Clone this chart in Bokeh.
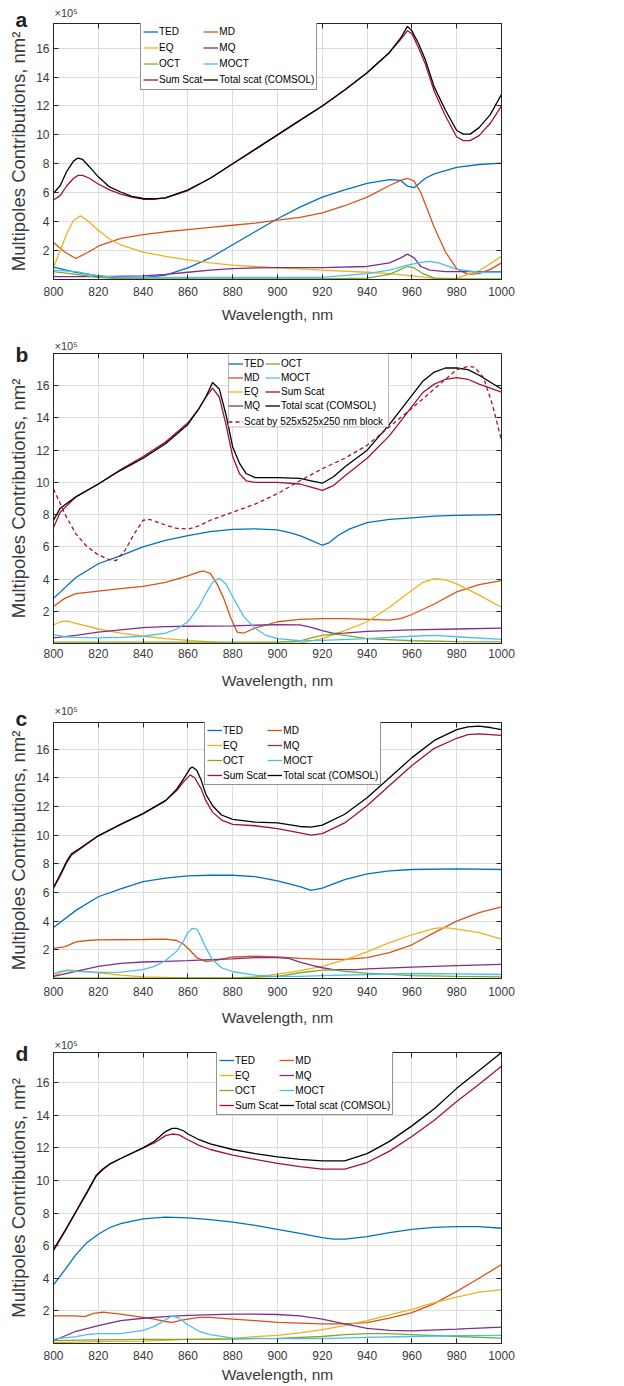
from bokeh.plotting import figure
from bokeh.models import (Range1d, FixedTicker, LinearAxis, Legend, LegendItem,
                          BoxAnnotation, Title)
from bokeh.layouts import column
from bokeh.embed import file_html
from bokeh.resources import INLINE

# ------------------------------------------------------------------ data
x_ticks = [800, 820, 840, 860, 880, 900, 920, 940, 960, 980, 1000]
y_ticks = [2, 4, 6, 8, 10, 12, 14, 16]
x_label = "Wavelength, nm"
y_label = "Multipoles Contributions, nm²"
y_multiplier = "×10⁵"
series_names = ["TED", "MD", "EQ", "MQ", "OCT", "MOCT", "Sum Scat", "Total scat (COMSOL)"]
block_name = "Scat by 525x525x250 nm block"

# ---- panel a (values x1e5 nm^2)
a_ted_x = [800,810,820,830,840,850,860,870,880,890,900,910,920,930,940,950,955,958,961,963,966,970,980,990,1000]
a_ted_y = [0.85,0.5,0.25,0.1,0.12,0.3,0.8,1.5,2.4,3.3,4.2,5.0,5.7,6.2,6.65,6.9,6.85,6.45,6.35,6.6,7.0,7.3,7.75,7.95,8.05]
a_md_x = [800,805,810,815,820,830,840,850,860,870,880,890,900,910,920,930,940,950,955,958,961,964,967,970,975,980,985,990,995,1000]
a_md_y = [2.55,1.9,1.45,1.85,2.3,2.85,3.1,3.3,3.45,3.6,3.75,3.9,4.1,4.3,4.6,5.1,5.7,6.5,6.85,7.0,6.8,6.0,4.8,3.6,1.9,0.75,0.35,0.4,0.7,1.15]
a_eq_x = [800,803,806,809,812,815,820,825,830,840,850,860,870,880,890,900,920,940,950,960,970,980,990,1000]
a_eq_y = [0.85,2.0,3.2,4.1,4.4,4.1,3.4,2.8,2.4,1.9,1.6,1.35,1.15,1.0,0.9,0.8,0.65,0.5,0.4,0.25,0.08,0.1,0.6,1.6]
a_mq_x = [800,820,840,850,860,870,880,890,900,920,940,950,955,958,961,964,968,975,1000]
a_mq_y = [0.2,0.2,0.25,0.35,0.5,0.65,0.75,0.8,0.82,0.82,0.9,1.15,1.5,1.75,1.5,0.9,0.65,0.55,0.55]
a_oct_x = [800,810,820,830,840,920,940,950,955,958,961,965,970,980,1000]
a_oct_y = [0.55,0.35,0.15,0.05,0.05,0.05,0.1,0.35,0.7,0.9,0.8,0.4,0.1,0.05,0.05]
a_moct_x = [800,810,820,830,840,920,940,950,958,965,968,972,980,990,1000]
a_moct_y = [0.65,0.55,0.25,0.15,0.15,0.15,0.4,0.65,1.0,1.2,1.25,1.15,0.7,0.5,0.5]
a_sum_x = [800,803,806,809,811,813,816,820,825,830,835,840,845,850,860,870,880,890,900,910,920,930,940,950,955,958,960,963,966,970,975,980,983,986,990,995,1000]
a_sum_y = [5.5,5.8,6.5,7.0,7.2,7.2,7.0,6.6,6.2,5.9,5.7,5.55,5.55,5.65,6.15,7.0,8.0,9.0,10.0,11.0,12.0,13.1,14.3,15.7,16.6,17.2,17.0,16.0,14.9,13.0,11.3,9.85,9.6,9.6,9.95,10.8,12.0]
a_total_x = [800,803,806,809,811,813,816,820,825,830,835,840,845,850,860,870,880,890,900,910,920,930,940,950,955,958,960,963,966,970,975,980,983,986,990,995,1000]
a_total_y = [5.95,6.5,7.5,8.2,8.4,8.3,7.8,7.1,6.4,6.05,5.75,5.6,5.58,5.65,6.2,7.0,8.0,9.0,10.0,11.0,12.0,13.1,14.3,15.7,16.7,17.5,17.2,16.3,15.2,13.3,11.7,10.3,10.05,10.05,10.5,11.4,12.8]

# ---- panel b
b_ted_x = [800,810,820,830,840,850,860,870,880,890,900,905,910,915,920,923,927,932,940,950,960,970,980,1000]
b_ted_y = [2.8,4.1,4.95,5.45,6.0,6.4,6.7,6.95,7.08,7.12,7.05,6.9,6.7,6.4,6.1,6.25,6.7,7.1,7.5,7.7,7.8,7.9,7.95,8.0]
b_md_x = [800,805,810,820,830,840,850,855,860,865,867,870,873,876,879,882,885,890,900,910,920,930,940,950,955,960,970,980,990,1000]
b_md_y = [2.3,2.8,3.1,3.25,3.4,3.55,3.8,4.0,4.2,4.45,4.5,4.35,3.7,2.8,1.65,0.7,0.65,0.95,1.35,1.5,1.55,1.55,1.5,1.45,1.55,1.8,2.45,3.2,3.65,3.9]
b_eq_x = [800,803,806,810,820,830,840,850,860,870,875,910,920,930,940,950,960,965,970,975,980,990,1000]
b_eq_y = [1.15,1.35,1.4,1.25,0.9,0.65,0.45,0.3,0.2,0.1,0.02,0.02,0.3,0.8,1.35,2.25,3.3,3.8,4.02,3.95,3.7,3.0,2.25]
b_mq_x = [800,810,820,830,840,850,860,880,900,910,915,920,925,930,940,960,980,1000]
b_mq_y = [0.35,0.5,0.7,0.85,0.98,1.05,1.07,1.1,1.17,1.15,1.0,0.8,0.63,0.65,0.75,0.85,0.9,0.95]
b_oct_x = [800,900,910,915,920,925,930,940,960,980,1000]
b_oct_y = [0.08,0.08,0.15,0.35,0.5,0.58,0.5,0.3,0.17,0.12,0.1]
b_moct_x = [800,805,810,820,830,840,850,855,860,865,868,871,874,877,880,885,890,895,900,910,920,940,960,970,980,1000]
b_moct_y = [0.55,0.42,0.38,0.35,0.38,0.45,0.65,0.9,1.35,2.3,3.1,3.8,4.05,3.7,2.9,1.65,0.95,0.5,0.3,0.17,0.2,0.3,0.45,0.5,0.42,0.25]
b_sum_x = [800,803,810,820,830,840,850,860,865,868,871,874,877,880,883,886,890,900,910,915,920,925,930,940,950,960,965,970,975,980,985,990,1000]
b_sum_y = [7.2,8.15,9.1,9.9,10.8,11.6,12.5,13.7,14.6,15.3,15.85,15.3,13.6,11.6,10.55,10.1,10.0,10.0,9.9,9.7,9.5,9.8,10.4,11.5,12.9,14.7,15.6,16.1,16.4,16.5,16.4,16.1,15.6]
b_total_x = [800,803,810,820,830,840,850,860,865,868,871,874,877,880,883,886,890,900,910,915,920,925,930,940,950,960,965,970,975,980,985,990,1000]
b_total_y = [7.65,8.4,9.1,9.9,10.75,11.5,12.4,13.6,14.6,15.3,16.2,15.8,14.2,12.2,11.2,10.55,10.3,10.3,10.25,10.1,9.95,10.35,10.95,12.0,13.6,15.4,16.3,16.85,17.1,17.1,17.0,16.65,15.8]
b_block_x = [800,805,810,815,820,825,828,832,836,840,843,846,850,855,860,865,870,880,890,900,910,920,930,940,950,960,970,980,985,988,992,996,1000]
b_block_y = [9.6,8.05,6.8,6.0,5.5,5.2,5.15,5.8,6.8,7.65,7.7,7.55,7.35,7.15,7.1,7.3,7.65,8.15,8.65,9.3,10.1,10.85,11.5,12.3,13.45,14.6,15.8,17.0,17.2,17.15,16.5,14.8,12.6]

# ---- panel c
c_ted_x = [800,810,820,830,840,850,860,870,880,890,900,910,915,920,930,940,950,960,980,1000]
c_ted_y = [3.55,4.75,5.7,6.25,6.75,7.0,7.15,7.2,7.2,7.1,6.8,6.4,6.15,6.3,6.9,7.3,7.5,7.6,7.65,7.6]
c_md_x = [800,805,810,815,820,840,850,855,858,861,864,868,872,880,890,900,910,920,930,940,950,960,970,980,990,1000]
c_md_y = [2.1,2.2,2.55,2.65,2.7,2.72,2.75,2.65,2.4,1.95,1.45,1.2,1.25,1.5,1.55,1.5,1.4,1.33,1.33,1.45,1.8,2.35,3.2,4.0,4.6,5.0]
c_eq_x = [800,803,806,810,820,830,840,860,880,890,900,910,920,930,940,950,960,970,975,980,990,1000]
c_eq_y = [0.15,0.4,0.6,0.55,0.4,0.23,0.12,0.05,0.05,0.1,0.3,0.55,0.85,1.3,1.85,2.5,3.05,3.5,3.55,3.45,3.2,2.75]
c_mq_x = [800,810,820,830,840,850,860,870,880,890,900,905,910,915,920,925,935,940,960,980,1000]
c_mq_y = [0.15,0.5,0.85,1.05,1.15,1.2,1.25,1.32,1.37,1.45,1.45,1.4,1.15,0.93,0.75,0.62,0.62,0.67,0.8,0.9,0.98]
c_oct_x = [800,880,900,910,920,925,930,940,960,980,1000]
c_oct_y = [0.03,0.05,0.15,0.4,0.58,0.6,0.5,0.37,0.2,0.15,0.12]
c_moct_x = [800,803,806,810,820,830,840,845,850,855,858,860,862,864,866,868,871,875,880,890,900,910,920,940,960,980,1000]
c_moct_y = [0.32,0.5,0.55,0.5,0.43,0.45,0.62,0.85,1.25,1.9,2.6,3.2,3.5,3.45,2.85,2.15,1.3,0.75,0.47,0.23,0.15,0.15,0.2,0.28,0.35,0.32,0.28]
c_sum_x = [800,803,806,808,812,820,830,840,850,855,858,861,863,866,868,871,875,880,890,900,910,915,920,930,940,950,960,970,980,985,990,1000]
c_sum_y = [6.3,7.15,8.1,8.6,9.05,9.95,10.75,11.5,12.4,13.1,13.7,14.2,14.0,13.2,12.4,11.6,11.05,10.75,10.65,10.45,10.15,10.0,10.1,10.85,12.05,13.45,14.85,16.05,16.75,17.0,17.05,16.95]
c_total_x = [800,803,806,808,812,820,830,840,850,855,858,861,862,864,866,868,871,875,880,890,900,910,915,920,930,940,950,960,970,980,985,990,995,1000]
c_total_y = [6.35,7.25,8.2,8.7,9.1,9.95,10.75,11.5,12.4,13.2,13.9,14.65,14.75,14.5,13.8,12.85,12.05,11.4,11.1,10.9,10.85,10.6,10.55,10.7,11.45,12.6,14.0,15.4,16.6,17.35,17.55,17.6,17.5,17.35]

# ---- panel d
d_ted_x = [800,805,810,815,820,825,830,840,850,860,870,880,890,900,910,920,925,930,940,950,960,970,980,990,1000]
d_ted_y = [3.6,4.5,5.45,6.2,6.7,7.1,7.35,7.65,7.75,7.7,7.6,7.45,7.25,7.0,6.75,6.5,6.4,6.4,6.55,6.8,7.0,7.12,7.17,7.17,7.07]
d_md_x = [800,810,814,818,822,830,840,845,850,853,858,865,870,880,890,900,910,920,930,940,950,960,970,980,990,1000]
d_md_y = [1.7,1.7,1.65,1.85,1.92,1.8,1.6,1.5,1.35,1.3,1.45,1.6,1.6,1.5,1.4,1.3,1.25,1.2,1.2,1.28,1.55,1.9,2.45,3.2,4.0,4.85]
d_eq_x = [800,820,840,860,880,890,900,910,920,930,940,950,960,970,980,990,1000]
d_eq_y = [0.05,0.12,0.15,0.25,0.32,0.42,0.5,0.65,0.85,1.1,1.4,1.75,2.1,2.5,2.85,3.15,3.3]
d_mq_x = [800,810,820,830,840,850,860,880,890,900,910,920,930,940,950,960,980,1000]
d_mq_y = [0.17,0.75,1.1,1.4,1.55,1.65,1.72,1.8,1.8,1.78,1.7,1.5,1.2,0.93,0.8,0.78,0.88,1.0]
d_oct_x = [800,820,840,860,880,900,920,930,940,950,960,980,1000]
d_oct_y = [0.18,0.22,0.25,0.25,0.27,0.32,0.43,0.55,0.6,0.6,0.55,0.43,0.33]
d_moct_x = [800,810,815,820,830,840,845,850,853,856,860,865,870,880,900,920,940,960,980,1000]
d_moct_y = [0.27,0.42,0.55,0.6,0.6,0.8,1.05,1.45,1.7,1.55,1.15,0.75,0.55,0.33,0.3,0.3,0.37,0.43,0.48,0.5]
d_sum_x = [800,805,810,815,819,822,825,830,840,845,850,853,856,860,865,870,880,890,900,910,920,930,940,950,960,970,980,990,1000]
d_sum_y = [5.7,6.85,8.05,9.25,10.25,10.65,11.0,11.35,12.0,12.3,12.75,12.85,12.8,12.5,12.15,11.9,11.55,11.3,11.05,10.85,10.7,10.7,11.1,11.8,12.7,13.7,14.85,15.9,17.0]
d_total_x = [800,805,810,815,819,822,825,830,840,845,850,853,855,858,860,865,870,880,890,900,910,920,930,940,950,960,970,980,990,1000]
d_total_y = [5.75,6.9,8.1,9.3,10.3,10.7,11.0,11.35,12.0,12.4,13.0,13.2,13.2,13.05,12.85,12.5,12.25,11.9,11.65,11.45,11.3,11.2,11.2,11.65,12.4,13.35,14.4,15.65,16.75,17.85]

panel_series = {
    "a": [(a_ted_x, a_ted_y), (a_md_x, a_md_y), (a_eq_x, a_eq_y), (a_mq_x, a_mq_y),
          (a_oct_x, a_oct_y), (a_moct_x, a_moct_y), (a_sum_x, a_sum_y), (a_total_x, a_total_y)],
    "b": [(b_ted_x, b_ted_y), (b_md_x, b_md_y), (b_eq_x, b_eq_y), (b_mq_x, b_mq_y),
          (b_oct_x, b_oct_y), (b_moct_x, b_moct_y), (b_sum_x, b_sum_y), (b_total_x, b_total_y)],
    "c": [(c_ted_x, c_ted_y), (c_md_x, c_md_y), (c_eq_x, c_eq_y), (c_mq_x, c_mq_y),
          (c_oct_x, c_oct_y), (c_moct_x, c_moct_y), (c_sum_x, c_sum_y), (c_total_x, c_total_y)],
    "d": [(d_ted_x, d_ted_y), (d_md_x, d_md_y), (d_eq_x, d_eq_y), (d_mq_x, d_mq_y),
          (d_oct_x, d_oct_y), (d_moct_x, d_moct_y), (d_sum_x, d_sum_y), (d_total_x, d_total_y)],
}
y_max = {"a": 17.7, "b": 18.0, "c": 17.85, "d": 17.85}

# ------------------------------------------------------------------ style
COLORS = ["#0072BD", "#D95319", "#EDB120", "#7E2F8E", "#77AC30", "#4DBEEE", "#A2142F", "#000000"]
FONT = "Liberation Sans"
AXC = "#262626"
TXC = "#3a3a3a"

# layout: height, border top, border bottom, tick standoff, axis-label standoff,
#         legend x (px from frame left), legend row height,
#         standoffs of the letter title and of the multiplier title (stacked in that order)
LAYOUT = {
    "a": dict(h=330, bt=23, bb=51, ts=7, als=7, lx=87, lh=15, s_let=-15, s_mul=-10),
    "b": dict(h=367, bt=23, bb=54, ts=5, als=11, lx=175, lh=13, s_let=-25, s_mul=2.4),
    "c": dict(h=333, bt=25, bb=52, ts=8, als=10, lx=151, lh=14, s_let=-14, s_mul=-10),
    "d": dict(h=355, bt=22, bb=42, ts=7, als=3, lx=163, lh=14, s_let=-25, s_mul=2.4),
}
FRAME_W, BL, BR = 448, 53, 27
FIG_W = BL + FRAME_W + BR


def style_axis(ax, ticks, labels=True):
    ax.major_tick_in = 5
    ax.major_tick_out = 0
    ax.minor_tick_line_color = None
    ax.axis_line_color = AXC
    ax.major_tick_line_color = AXC
    ax.axis_line_width = 1
    if labels:
        ax.major_label_text_font = FONT
        ax.major_label_text_font_size = "12px"
        ax.major_label_text_color = TXC
        ax.axis_label_text_font = FONT
        ax.axis_label_text_font_style = "normal"
        ax.axis_label_text_color = TXC
    else:
        ax.major_label_overrides = {t: "" for t in ticks}
        ax.major_label_text_font_size = "1px"
        ax.major_label_standoff = 0


def make_panel(key):
    L = LAYOUT[key]
    fh = L["h"] - L["bt"] - L["bb"]
    ym = y_max[key]
    nm_per_px = 200.0 / FRAME_W
    val_per_px = ym / fh
    p = figure(width=FIG_W, height=L["h"], x_range=Range1d(800, 1000),
               y_range=Range1d(0, ym), output_backend="svg",
               toolbar_location=None, min_border_left=BL, min_border_right=BR,
               min_border_top=L["bt"], min_border_bottom=L["bb"])
    p.background_fill_color = "white"
    p.border_fill_color = "white"
    p.outline_line_color = AXC
    p.xaxis.ticker = FixedTicker(ticks=x_ticks)
    p.yaxis.ticker = FixedTicker(ticks=y_ticks)
    p.xgrid.ticker = FixedTicker(ticks=x_ticks)
    p.ygrid.ticker = FixedTicker(ticks=y_ticks)
    for g in (p.xgrid[0], p.ygrid[0]):
        g.grid_line_color = "#dcdcdc"
        g.grid_line_width = 1
    xa, ya = p.xaxis[0], p.yaxis[0]
    style_axis(xa, x_ticks)
    style_axis(ya, y_ticks)
    xa.axis_label = x_label
    xa.axis_label_text_font_size = "15.5px"
    xa.major_label_standoff = L["ts"]
    xa.axis_label_standoff = L["als"]
    ya.axis_label = y_label
    ya.axis_label_text_font_size = "18.5px"
    ya.major_label_standoff = 4
    ya.axis_label_standoff = 4
    top = LinearAxis(ticker=FixedTicker(ticks=x_ticks))
    right = LinearAxis(ticker=FixedTicker(ticks=y_ticks))
    style_axis(top, x_ticks, labels=False)
    style_axis(right, y_ticks, labels=False)
    p.add_layout(top, "above")
    p.add_layout(right, "right")

    rends = []
    for (xs, ys), col in zip(panel_series[key], COLORS):
        rends.append(p.line(xs, ys, line_color=col, line_width=1.3))

    pad, sp = 2, 1
    common = dict(label_text_font=FONT, label_text_font_size="10px",
                  label_text_color="#000000", glyph_width=15, glyph_height=L["lh"],
                  label_height=L["lh"], label_standoff=1, spacing=sp, padding=pad,
                  margin=0, orientation="vertical")
    lh4 = 2 * pad + 4 * L["lh"] + 3 * sp
    if key == "b":
        blk = p.line(b_block_x, b_block_y, line_color=COLORS[6], line_width=1.3, line_dash="4 3")
        # frame drawn around both legend blocks
        bx0 = 800 + L["lx"] * nm_per_px
        box = BoxAnnotation(left=bx0, right=bx0 + 160 * nm_per_px, top=ym,
                            bottom=ym - 73.4 * val_per_px,
                            fill_color="white", fill_alpha=1.0,
                            line_color=AXC, line_width=1)
        p.add_layout(box)
        items = [LegendItem(label=series_names[i], renderers=[rends[i]]) for i in range(8)]
        lg = Legend(items=items, location=(L["lx"], fh - lh4), border_line_color=None,
                    background_fill_alpha=0, nrows=4, **common)
        p.add_layout(lg)
        lg2h = 2 * pad + L["lh"]
        lg2 = Legend(items=[LegendItem(label=block_name, renderers=[blk])],
                     location=(L["lx"], fh - 57.5 - lg2h), border_line_color=None,
                     background_fill_alpha=0, **common)
        p.add_layout(lg2)
    else:
        order = [0, 2, 4, 6, 1, 3, 5, 7]
        items = [LegendItem(label=series_names[i], renderers=[rends[i]]) for i in order]
        lg = Legend(items=items, location=(L["lx"], fh - lh4), border_line_color=AXC,
                    border_line_width=1, background_fill_color="white",
                    background_fill_alpha=1.0, nrows=4, **common)
        p.add_layout(lg)

    # panel letter and axis multiplier as titles above the frame
    letter = Title(text=key, align="left", offset=-38, vertical_align="bottom",
                   standoff=L["s_let"], text_font=FONT, text_font_size="21px",
                   text_font_style="bold", text_color="#222222")
    mult = Title(text=y_multiplier, align="left", offset=1, vertical_align="bottom",
                 standoff=L["s_mul"], text_font=FONT, text_font_size="11px",
                 text_font_style="normal", text_color=TXC)
    p.add_layout(letter, "above")
    p.add_layout(mult, "above")
    return p


layout = column(*[make_panel(k) for k in ["a", "b", "c", "d"]], spacing=0)
open("out.html", "w").write(file_html(layout, INLINE))
